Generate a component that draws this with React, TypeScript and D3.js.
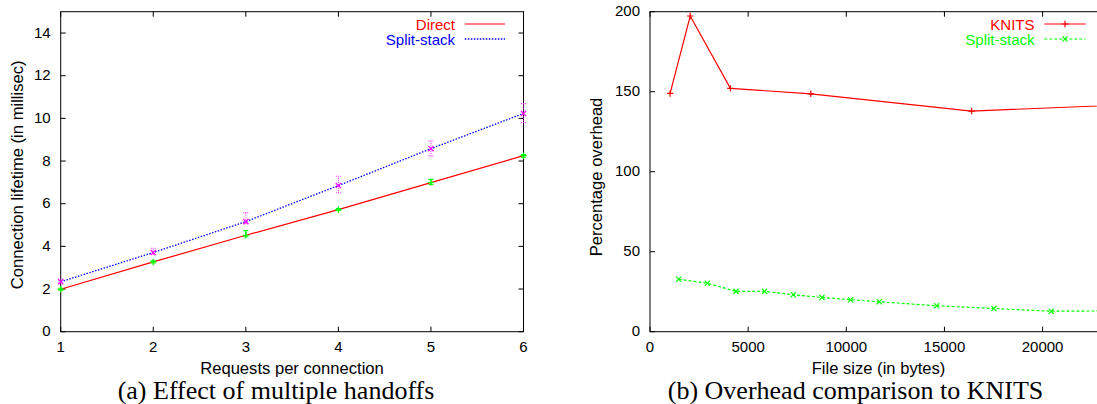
import React from 'react';
import * as d3 from 'd3';

// (a) Effect of multiple handoffs
const requests = [1, 2, 3, 4, 5, 6];
const directMean = [1.99, 3.27, 4.52, 5.72, 6.99, 8.25];
const directLow = [1.95, 3.22, 4.45, 5.68, 6.9, 8.18];
const directHigh = [2.04, 3.32, 4.74, 5.77, 7.14, 8.3];
const splitMean = [2.34, 3.71, 5.16, 6.85, 8.58, 10.23];
const splitLow = [2.28, 3.62, 5.06, 6.51, 8.24, 9.8];
const splitHigh = [2.47, 3.91, 5.58, 7.29, 8.94, 10.69];
const leftYTicks = [0, 2, 4, 6, 8, 10, 12, 14];

// (b) Overhead comparison to KNITS
const knitsSize = [1024, 2048, 4096, 8192, 16384, 32768];
const knitsOverhead = [148.9, 197.3, 152.1, 148.7, 137.9, 146];
const splitSize = [1460, 2920, 4380, 5840, 7300, 8760, 10220, 11680, 14600, 17520, 20440, 23360];
const splitOverhead = [32.8, 30.3, 25.2, 25.2, 23.1, 21.4, 20.0, 18.7, 16.2, 14.5, 12.8, 13.0];
const rightXTicks = [0, 5000, 10000, 15000, 20000];
const rightYTicks = [0, 50, 100, 150, 200];

const SANS = '"Liberation Sans", Arial, sans-serif';
const SERIF = '"Liberation Serif", "Times New Roman", serif';
const TICK = 5;
const LABEL = 16.6;

const plus = (x: number, y: number, c: string, s = 3.2) => (
  <path d={`M${x - s},${y}H${x + s}M${x},${y - s}V${y + s}`} stroke={c} strokeWidth={1.2} fill="none" />
);
const cross = (x: number, y: number, c: string, s = 2.6) => (
  <path d={`M${x - s},${y - s}L${x + s},${y + s}M${x - s},${y + s}L${x + s},${y - s}`} stroke={c} strokeWidth={1.2} fill="none" />
);

function Frame({ x0, x1, y0, y1 }: { x0: number; x1: number; y0: number; y1: number }) {
  return <rect x={x0} y={y0} width={x1 - x0} height={y1 - y0} fill="none" stroke="#000" strokeWidth={1} />;
}

function LeftChart() {
  const x = d3.scaleLinear().domain([1, 6]).range([60.7, 523.5]);
  const y = d3.scaleLinear().domain([0, 15]).range([331.7, 11.7]);
  const [x0, x1] = x.range();
  const [y0, y1] = [y.range()[1], y.range()[0]];
  const line = d3.line<number>().x((_, i) => x(requests[i])).y(d => y(d));
  return (
    <g>
      {leftYTicks.map(t => (
        <g key={'y' + t}>
          <line x1={x0} x2={x0 + TICK} y1={y(t)} y2={y(t)} stroke="#000" />
          <line x1={x1} x2={x1 - TICK} y1={y(t)} y2={y(t)} stroke="#000" />
          <text x={x0 - 10} y={y(t) + 4.5} textAnchor="end" fontSize={15} fontFamily={SANS}>{t}</text>
        </g>
      ))}
      {requests.map(t => (
        <g key={'x' + t}>
          <line x1={x(t)} x2={x(t)} y1={y1} y2={y1 - TICK} stroke="#000" />
          <line x1={x(t)} x2={x(t)} y1={y0} y2={y0 + TICK} stroke="#000" />
          <text x={x(t)} y={352} textAnchor="middle" fontSize={15} fontFamily={SANS}>{t}</text>
        </g>
      ))}
      <Frame x0={x0} x1={x1} y0={y0} y1={y1} />

      {/* lines */}
      <path d={line(directMean) || ''} fill="none" stroke="#ff0000" strokeWidth={1.2} />
      <path d={line(splitMean) || ''} fill="none" stroke="#0000ff" strokeWidth={1.3} strokeDasharray="1.5 1.5" />

      {/* error bars + points */}
      {requests.map((r, i) => (
        <g key={'e' + r}>
          <path d={`M${x(r)},${y(directLow[i])}V${y(directHigh[i])}M${x(r) - 2.5},${y(directLow[i])}h5M${x(r) - 2.5},${y(directHigh[i])}h5`}
            stroke="#00ff00" strokeWidth={1.1} fill="none" />
          {plus(x(r), y(directMean[i]), '#00ff00')}
          <path d={`M${x(r)},${y(splitLow[i])}V${y(splitHigh[i])}M${x(r) - 2.5},${y(splitLow[i])}h5M${x(r) - 2.5},${y(splitHigh[i])}h5`}
            stroke="#ff00ff" strokeWidth={1.1} fill="none" strokeDasharray="1 1" opacity={0.8} />
          {cross(x(r), y(splitMean[i]), '#ff00ff')}
        </g>
      ))}

      {/* legend */}
      <text x={455} y={29.5} textAnchor="end" fontSize={15} fontFamily={SANS} fill="#ff0000">Direct</text>
      <line x1={464.8} x2={505} y1={24} y2={24} stroke="#ff0000" strokeWidth={1.2} />
      <text x={455} y={44.5} textAnchor="end" fontSize={15} fontFamily={SANS} fill="#0000ff">Split-stack</text>
      <line x1={464.8} x2={505} y1={39} y2={39} stroke="#0000ff" strokeWidth={1.3} strokeDasharray="1.5 1.5" />

      <text transform={`translate(22.5,174.8) rotate(-90)`} textAnchor="middle" fontSize={LABEL} fontFamily={SANS}>
        Connection lifetime (in millisec)
      </text>
      <text x={292} y={374} textAnchor="middle" fontSize={LABEL} fontFamily={SANS}>Requests per connection</text>
      <text x={276} y={399} textAnchor="middle" fontSize={26} fontFamily={SERIF}>
        (a) Effect of multiple handoffs
      </text>
    </g>
  );
}

function RightChart() {
  const x = d3.scaleLinear().domain([0, 23360]).range([650, 650 + (23360 / 5000) * 98.15]);
  const y = d3.scaleLinear().domain([0, 200]).range([331.7, 11.7]);
  const [x0, x1] = x.range();
  const [y0, y1] = [y.range()[1], y.range()[0]];
  const knitsLine = d3.line<number>().x((_, i) => x(knitsSize[i])).y(d => y(d));
  const splitLine = d3.line<number>().x((_, i) => x(splitSize[i])).y(d => y(d));
  return (
    <g>
      <defs>
        <clipPath id="rclip">
          <rect x={x0} y={y0} width={x1 - x0} height={y1 - y0} />
        </clipPath>
      </defs>
      {rightYTicks.map(t => (
        <g key={'y' + t}>
          <line x1={x0} x2={x0 + TICK} y1={y(t)} y2={y(t)} stroke="#000" />
          <line x1={x1} x2={x1 - TICK} y1={y(t)} y2={y(t)} stroke="#000" />
          <text x={x0 - 10} y={y(t) + 4.5} textAnchor="end" fontSize={15} fontFamily={SANS}>{t}</text>
        </g>
      ))}
      {rightXTicks.map(t => (
        <g key={'x' + t}>
          <line x1={x(t)} x2={x(t)} y1={y1} y2={y1 - TICK} stroke="#000" />
          <line x1={x(t)} x2={x(t)} y1={y0} y2={y0 + TICK} stroke="#000" />
          <text x={x(t)} y={352} textAnchor="middle" fontSize={15} fontFamily={SANS}>{t}</text>
        </g>
      ))}
      <Frame x0={x0} x1={x1} y0={y0} y1={y1} />

      <g clipPath="url(#rclip)">
        <path d={knitsLine(knitsOverhead) || ''} fill="none" stroke="#ff0000" strokeWidth={1.2} />
        {knitsOverhead.map((v, i) => <g key={'k' + i}>{plus(x(knitsSize[i]), y(v), '#ff0000')}</g>)}
        <path d={splitLine(splitOverhead) || ''} fill="none" stroke="#00ff00" strokeWidth={1.2} strokeDasharray="3 2" />
        {splitOverhead.map((v, i) => <g key={'s' + i}>{cross(x(splitSize[i]), y(v), '#00ff00')}</g>)}
      </g>

      {/* legend */}
      <text x={1034.5} y={29.5} textAnchor="end" fontSize={15} fontFamily={SANS} fill="#ff0000">KNITS</text>
      <line x1={1044.3} x2={1085.7} y1={24} y2={24} stroke="#ff0000" strokeWidth={1.2} />
      {plus(1065, 24, '#ff0000')}
      <text x={1034.5} y={44.5} textAnchor="end" fontSize={15} fontFamily={SANS} fill="#00ff00">Split-stack</text>
      <line x1={1044.3} x2={1085.7} y1={39} y2={39} stroke="#00ff00" strokeWidth={1.2} strokeDasharray="3 2" />
      {cross(1065, 39, '#00ff00')}

      <text transform={`translate(601.5,177) rotate(-90)`} textAnchor="middle" fontSize={LABEL} fontFamily={SANS}>
        Percentage overhead
      </text>
      <text x={878.5} y={374} textAnchor="middle" fontSize={LABEL} fontFamily={SANS}>File size (in bytes)</text>
      <text x={855.5} y={399} textAnchor="middle" fontSize={26} fontFamily={SERIF}>
        (b) Overhead comparison to KNITS
      </text>
    </g>
  );
}

export default function App() {
  return (
    <svg width={1097} height={404} style={{ position: 'absolute', left: 0, top: 0, background: '#fff' }}>
      <rect width={1097} height={404} fill="#fff" />
      <LeftChart />
      <RightChart />
    </svg>
  );
}
